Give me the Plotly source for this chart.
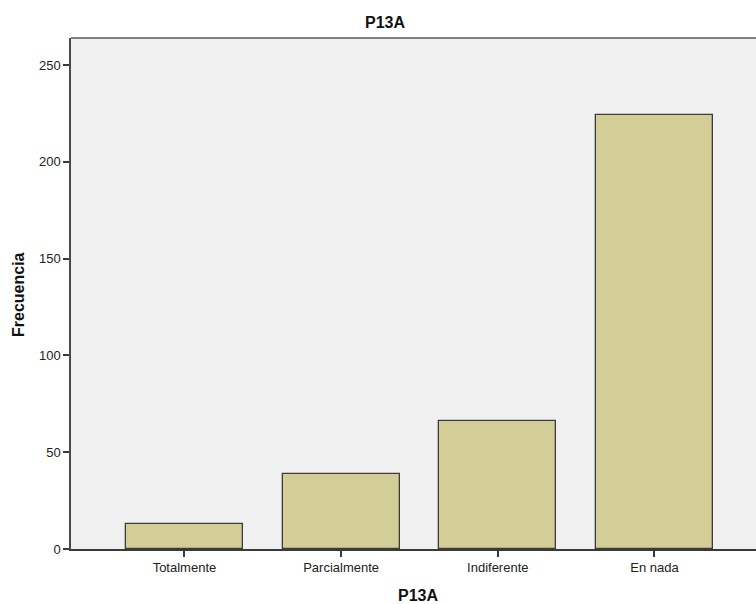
import plotly.graph_objects as go

categories = ["Totalmente", "Parcialmente", "Indiferente", "En nada"]
frecuencia = [13, 39, 66, 224]
y_ticks = [0, 50, 100, 150, 200, 250]

fig = go.Figure()
fig.add_trace(go.Bar(
    x=categories, y=frecuencia, width=0.747,
    marker=dict(color="#d3ce97", line=dict(color="#3c3c3c", width=1.3)),
))

W, H = 756, 604
L, T, B = 71, 38, 55
pw = W - L
ph = H - T - B

fig.update_layout(
    width=W, height=H,
    margin=dict(l=L, r=0, t=T, b=B),
    paper_bgcolor="white", plot_bgcolor="#f0f0f0",
    font=dict(family="Liberation Sans, Arial, sans-serif", size=13, color="#222"),
    showlegend=False,
    bargap=0,
)
fig.update_xaxes(
    type="category", range=[-0.724, 3.648],
    showline=True, linecolor="#3a3a3a", linewidth=1.5,
    ticks="outside", ticklen=6, tickwidth=1.5, tickcolor="#3a3a3a",
    showgrid=False, tickfont=dict(size=13, color="#222"),
)
fig.update_yaxes(
    range=[0, 264], tickvals=y_ticks,
    showline=True, linecolor="#4a4a4a", linewidth=1.5,
    ticks="outside", ticklen=6, tickwidth=1.5, tickcolor="#3a3a3a",
    showgrid=False, zeroline=False, tickfont=dict(size=13, color="#222"),
)
fig.add_shape(type="line", xref="paper", yref="paper", x0=0, x1=1, y0=1, y1=1,
              line=dict(color="#808080", width=2))
fig.add_annotation(text="<b>P13A</b>", xref="paper", yref="paper",
                   x=(385 - L) / pw, y=(H - B - 22) / ph, showarrow=False,
                   font=dict(size=16, color="#111"), xanchor="center", yanchor="middle")
fig.add_annotation(text="<b>P13A</b>", xref="paper", yref="paper",
                   x=(418 - L) / pw, y=(H - B - 595) / ph, showarrow=False,
                   font=dict(size=16, color="#111"), xanchor="center", yanchor="middle")
fig.add_annotation(text="<b>Frecuencia</b>", xref="paper", yref="paper",
                   x=(18 - L) / pw, y=(H - B - 295) / ph, showarrow=False, textangle=-90,
                   font=dict(size=16, color="#111"), xanchor="center", yanchor="middle")

fig.write_html("out.html", config={"displayModeBar": False},
               post_script="document.body.style.margin='0';document.body.style.overflow='hidden';")
